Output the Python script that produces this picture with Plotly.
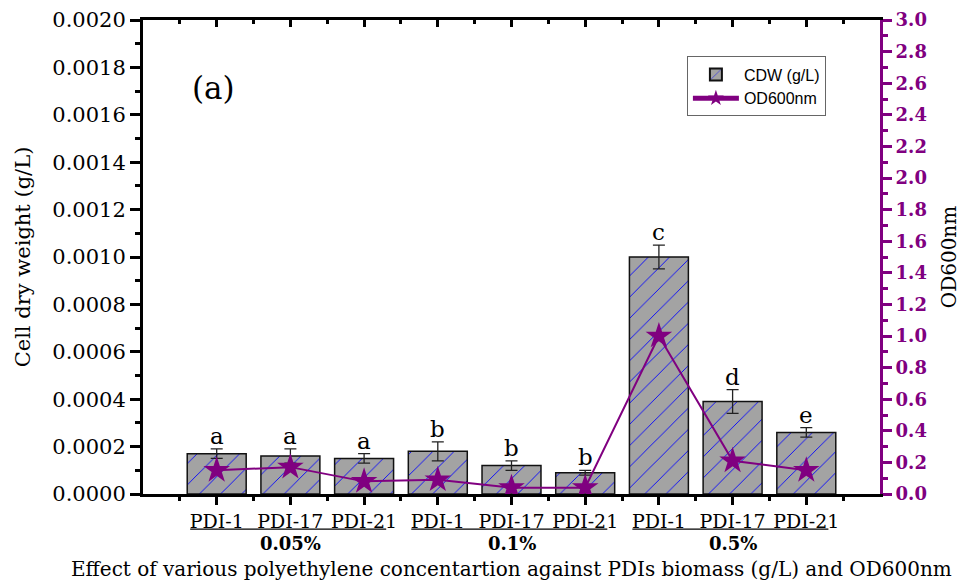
import plotly.graph_objects as go

# ---- data ----
samples = ["PDI-1", "PDI-17", "PDI-21", "PDI-1", "PDI-17", "PDI-21", "PDI-1", "PDI-17", "PDI-21"]
groups = ["0.05%", "0.1%", "0.5%"]
cdw = [0.00017, 0.00016, 0.00015, 0.00018, 0.00012, 0.00009, 0.00100, 0.00039, 0.00026]
cdw_err = [0.00002, 0.00003, 0.00002, 0.00004, 0.00002, 0.00001, 0.00005, 0.00005, 0.00002]
od600 = [0.15, 0.17, 0.08, 0.09, 0.04, 0.04, 1.00, 0.21, 0.15]
letters = ["a", "a", "a", "b", "b", "b", "c", "d", "e"]

x = list(range(len(samples)))
PURPLE = "#800080"
SERIF = "DejaVu Serif"

fig = go.Figure()
fig.add_trace(go.Bar(
    x=x, y=cdw, name="CDW (g/L)", width=0.8,
    marker=dict(color="#a3a3a3", line=dict(color="#111111", width=1.5),
                pattern=dict(shape="/", fgcolor="#0000ff", bgcolor="#a3a3a3",
                             size=15, solidity=0.06, fillmode="replace")),
    error_y=dict(type="data", array=cdw_err, color="#222222", thickness=1.3, width=6),
    yaxis="y",
))
fig.add_trace(go.Scatter(
    x=x, y=od600, name="OD600nm", mode="lines+markers",
    line=dict(color=PURPLE, width=2),
    marker=dict(symbol="star", size=20, color=PURPLE),
    yaxis="y2",
))
# invisible trace to activate top axis
fig.add_trace(go.Scatter(x=[x[0]], y=[0], xaxis="x2", yaxis="y", mode="markers",
                         marker=dict(opacity=0), showlegend=False, hoverinfo="skip"))

annotations = []
for i, (v, e, t) in enumerate(zip(cdw, cdw_err, letters)):
    annotations.append(dict(x=i, y=v + e, xref="x", yref="y", text=t, showarrow=False,
                            yanchor="bottom", yshift=-2, font=dict(family=SERIF, size=23, color="black")))
for g, name in enumerate(groups):
    annotations.append(dict(x=3 * g + 1, y=-0.105, xref="x", yref="paper", text=f"<b>{name}</b>",
                            showarrow=False, yanchor="middle",
                            font=dict(family=SERIF, size=18, color="black")))
annotations.append(dict(x=0.5, y=0, xref="paper", yref="paper", yanchor="middle",
                        text="Effect of various polyethylene concentartion against PDIs biomass (g/L) and OD600nm",
                        showarrow=False, yshift=-75, font=dict(family=SERIF, size=20, color="black")))
annotations.append(dict(x=0.064, y=0.857, xref="paper", yref="paper", text="(a)", showarrow=False,
                        xanchor="left", yanchor="middle", font=dict(family=SERIF, size=31, color="black")))

shapes = []
for g in range(3):
    shapes.append(dict(type="line", xref="x", yref="paper", x0=3 * g - 0.36, x1=3 * g + 2.3,
                       y0=-0.074, y1=-0.074, line=dict(color="black", width=1.3)))

# page body has an 8px margin, so the figure is sized/offset to compensate
fig.update_layout(
    width=960, height=574,
    margin=dict(l=135, r=88, t=12, b=88, autoexpand=False),
    paper_bgcolor="white", plot_bgcolor="white",
    showlegend=True,
    bargap=0.2,
    legend=dict(x=0.738, y=0.923, xanchor="left", yanchor="top",
                bgcolor="white", bordercolor="#666666", borderwidth=1,
                font=dict(family="Liberation Sans", size=16, color="black"),
                tracegroupgap=0, itemsizing="constant", itemwidth=46),
    xaxis=dict(range=[-1, 9], tickmode="array", tickvals=x, ticktext=samples,
               showline=True, linecolor="black", linewidth=3, automargin=False,
               ticks="outside", ticklen=8, tickwidth=3, tickcolor="black",
               minor=dict(tickmode="array", tickvals=[i - 0.5 for i in range(10)],
                          ticks="outside", ticklen=4, tickwidth=3, tickcolor="black"),
               tickfont=dict(family=SERIF, size=19, color="black"),
               showgrid=False, zeroline=False),
    xaxis2=dict(range=[-1, 9], overlaying="x", side="top", anchor="y", automargin=False,
                tickmode="array", tickvals=x, showticklabels=False,
                showline=True, linecolor="black", linewidth=3,
                ticks="inside", ticklen=7, tickwidth=3, tickcolor="black",
                minor=dict(tickmode="array", tickvals=[i - 0.5 for i in range(10)],
                           ticks="inside", ticklen=4, tickwidth=3, tickcolor="black"),
                showgrid=False, zeroline=False),
    yaxis=dict(range=[0, 0.002], dtick=0.0002, tickformat=".4f", automargin=False,
               showline=True, linecolor="black", linewidth=3,
               ticks="outside", ticklen=10, tickwidth=3, tickcolor="black",
               minor=dict(dtick=0.0001, ticks="outside", ticklen=5, tickwidth=3, tickcolor="black"),
               tickfont=dict(family=SERIF, size=21, color="black"),
               title=dict(text="Cell dry weight (g/L)", standoff=16,
                          font=dict(family=SERIF, size=21, color="black")),
               showgrid=False, zeroline=False),
    yaxis2=dict(range=[0, 3], dtick=0.2, tickformat=".1f", overlaying="y", side="right",
                automargin=False,
                showline=True, linecolor=PURPLE, linewidth=3,
                ticks="outside", ticklen=9, tickwidth=3, tickcolor=PURPLE,
                minor=dict(dtick=0.1, ticks="outside", ticklen=5, tickwidth=3, tickcolor=PURPLE),
                tickfont=dict(family=SERIF, size=18, color=PURPLE, weight="bold"),
                title=dict(text="OD600nm", standoff=17,
                           font=dict(family=SERIF, size=20, color="black")),
                showgrid=False, zeroline=False),
    annotations=annotations,
    shapes=shapes,
)

fig.write_html("out.html")
